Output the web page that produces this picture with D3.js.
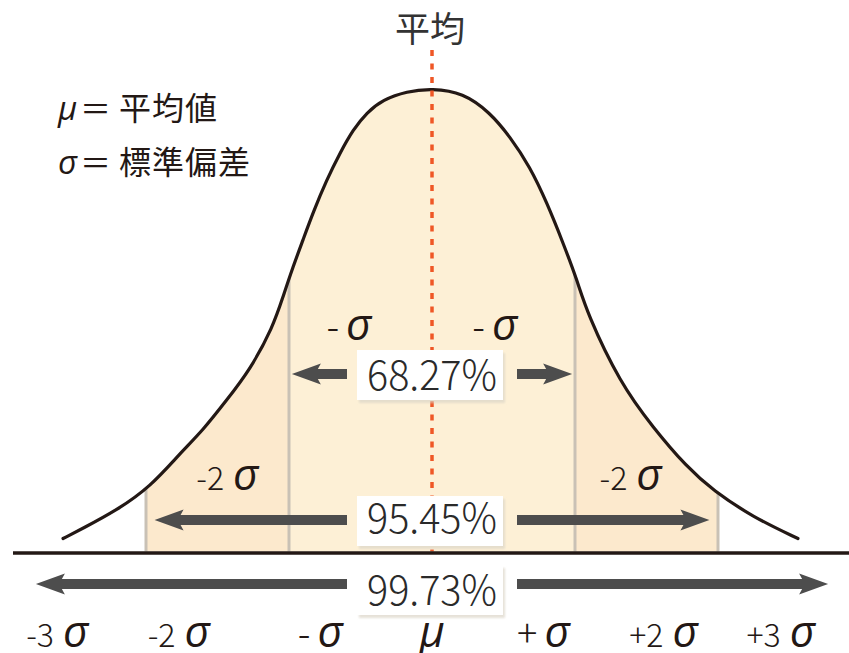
<!DOCTYPE html>
<html><head><meta charset="utf-8">
<script src="https://cdn.jsdelivr.net/npm/d3@7"></script>
<style>body{margin:0;background:#fff}</style>
</head><body>
<svg id="c" width="849" height="653"></svg>
<script>
// ---- data ----
// bell curve samples: position in σ units, height relative to the peak
const curveX = [-2.58,-2.441,-2.205,-1.972,-1.762,-1.601,-1.436,-1.273,-1.112,-1.042,-0.972,-0.902,-0.832,-0.736,-0.643,-0.552,-0.457,-0.343,-0.177,0,
                0.217,0.406,0.545,0.685,0.804,0.916,1.014,1.084,1.315,1.545,1.783,1.965,2.245,2.559];
const curveH = [0.028,0.050,0.089,0.139,0.212,0.262,0.327,0.392,0.485,0.550,0.615,0.673,0.732,0.803,0.861,0.911,0.948,0.976,0.994,1,
                0.991,0.948,0.896,0.831,0.753,0.667,0.587,0.515,0.364,0.268,0.182,0.132,0.074,0.028];
const bandStart = [-2,-1,1];
const bandEnd   = [-1,1,2];
const edgeLines = [-2,-1,1,2];
const pctLabels = ["68.27%","95.45%","99.73%"];
const arrowReach = [0.98,1.94,2.77];
const tickLabels = ["-3σ","-2σ","-σ","μ","+σ","+2σ","+3σ"];
const tickPos = [-2.62,-1.77,-0.78,0,0.78,1.62,2.44];
const regionLabels = ["-σ","-σ","-2σ","-2σ"];
const regionPos = [-0.58,0.44,-1.43,1.39];
const legendSym = ["μ","σ"];
const legendText = ["平均値","標準偏差"];
const titleText = "平均";

// ---- layout ----
const svg = d3.select("#c");
const x = d3.scaleLinear().domain([-3,3]).range([432-3*143, 432+3*143]);
const y = d3.scaleLinear().domain([0,1]).range([551.5, 88.5]);
const INK = "#231815";
const CJK = "'Noto Sans CJK JP','Noto Sans CJK SC',sans-serif";
const GREEK = "'Open Sans','Liberation Sans',sans-serif";

const pts = curveX.map((v,i)=>[v,curveH[i]]);
const area = d3.area().x(d=>x(d[0])).y0(y(0)).y1(d=>y(d[1])).curve(d3.curveBasis);
const line = d3.line().x(d=>x(d[0])).y(d=>y(d[1])).curve(d3.curveBasis);

const defs = svg.append("defs");
defs.append("clipPath").attr("id","under").append("path").attr("d", area(pts));
const f = defs.append("filter").attr("id","sh").attr("x","-10%").attr("y","-10%").attr("width","130%").attr("height","140%");
f.append("feGaussianBlur").attr("stdDeviation",1.2);

// fills
const under = svg.append("g").attr("clip-path","url(#under)");
const bandFill = ["#fce9cd","#fdf0d6","#fce9cd"];
under.selectAll("rect.band").data(bandStart).join("rect").attr("class","band")
  .attr("x",(d,i)=>x(d)).attr("width",(d,i)=>x(bandEnd[i])-x(d))
  .attr("y",0).attr("height",y(0)+2).attr("fill",(d,i)=>bandFill[i]);
under.selectAll("line.edge").data(edgeLines).join("line").attr("class","edge")
  .attr("x1",d=>x(d)).attr("x2",d=>x(d)).attr("y1",0).attr("y2",y(0)+2)
  .attr("stroke","#c9c1b5").attr("stroke-width",3);

// curve
svg.append("path").attr("d", line(pts)).attr("fill","none").attr("stroke",INK)
  .attr("stroke-width",3.2).attr("stroke-linecap","round");

// mean dotted line
svg.append("line").attr("x1",x(0)).attr("x2",x(0)).attr("y1",50).attr("y2",y(0))
  .attr("stroke","#ef5726").attr("stroke-width",3.5).attr("stroke-dasharray","6,7.5");

// baseline
svg.append("line").attr("x1",13).attr("x2",849).attr("y1",553).attr("y2",553)
  .attr("stroke",INK).attr("stroke-width",3.5);

// arrows + boxes
const rowArrowY = [374,520,584];
const rowBoxY = [350,496,565];
const rowTextY = [390,533,605];
const boxL = x(0)-75, boxW = 146, boxH = 50;
function arrowPath(xTail, xTip, yc){
  const dir = Math.sign(xTip-xTail), L=26, Hh=10.5, s=5;
  const p = [[xTail,yc-s],[xTip-dir*L,yc-s],[xTip-dir*(L+3),yc-Hh],[xTip,yc],
             [xTip-dir*(L+3),yc+Hh],[xTip-dir*L,yc+s],[xTail,yc+s]];
  return "M"+p.map(q=>q.join(",")).join("L")+"Z";
}
pctLabels.forEach((lab,i)=>{
  const g = svg.append("g");
  g.append("path").attr("d",arrowPath(boxL-10, x(-arrowReach[i]), rowArrowY[i])).attr("fill","#4d4d4d");
  g.append("path").attr("d",arrowPath(boxL+boxW+14, x(arrowReach[i]), rowArrowY[i])).attr("fill","#4d4d4d");
  g.append("rect").attr("x",boxL+2).attr("y",rowBoxY[i]+3).attr("width",boxW).attr("height",boxH)
    .attr("fill","#dcd5c8").attr("opacity",0.7).attr("filter","url(#sh)");
  g.append("rect").attr("x",boxL).attr("y",rowBoxY[i]).attr("width",boxW).attr("height",boxH).attr("fill","#fff");
  g.append("text").attr("x",x(0)).attr("y",rowTextY[i]).attr("text-anchor","middle")
    .attr("font-family",CJK).attr("font-size",41).attr("font-weight",300).attr("fill","#2a2a2a")
    .attr("textLength",130).attr("lengthAdjust","spacingAndGlyphs").text(lab);
});

// helper: label with prefix + σ / μ
function greekLabel(sel, label, cx, baseline){
  const t = sel.append("text").attr("x",cx).attr("y",baseline).attr("text-anchor","middle").attr("fill",INK);
  const last = label.slice(-1), pre = label.slice(0,-1);
  if (pre.length){
    const single = pre.length===1;
    t.append("tspan").attr("font-family",CJK).attr("font-weight",300)
      .attr("font-size", single?38:32).text(pre);
  }
  t.append("tspan").attr("font-family",GREEK).attr("font-style","italic").attr("font-weight",400).attr("font-size",44)
    .attr("dx", pre.length ? (pre.length===1?7:9) : 0).text(last);
  return t;
}
// bottom tick labels
tickLabels.forEach((lab,i)=>greekLabel(svg, lab, x(tickPos[i]), 647));
// region labels
const regionBase = [340,340,490,490];
regionLabels.forEach((lab,i)=>greekLabel(svg, lab, x(regionPos[i]), regionBase[i]));

// title
svg.append("text").attr("x",x(0)-2).attr("y",42).attr("text-anchor","middle")
  .attr("font-family",CJK).attr("font-size",35).attr("fill","#333").text(titleText);

// legend
const legBase = [120,174];
legendSym.forEach((s,i)=>{
  const t = svg.append("text").attr("y",legBase[i]).attr("fill",INK);
  t.append("tspan").attr("x",58).attr("font-family",GREEK).attr("font-style","italic").attr("font-size",33).text(s);
  t.append("tspan").attr("x",80).attr("font-family",CJK).attr("font-size",31).text("＝");
  t.append("tspan").attr("x",119).attr("font-family",CJK).attr("font-size",32).attr("letter-spacing",1).text(legendText[i]);
});
</script>
</body></html>
